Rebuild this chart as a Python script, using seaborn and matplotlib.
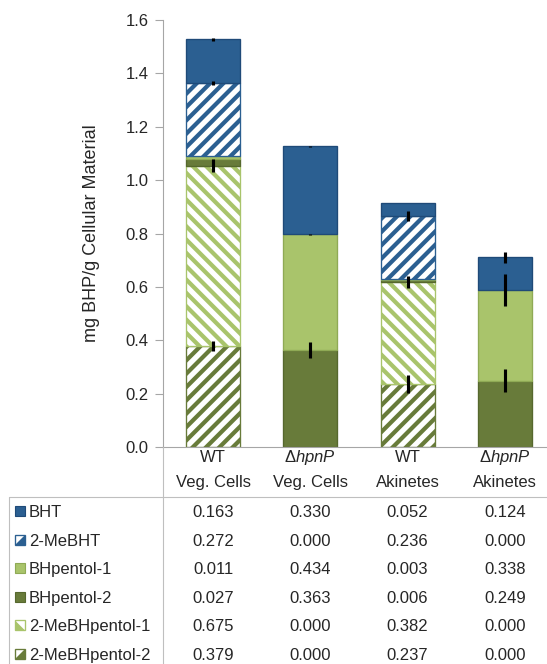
import numpy as np
import matplotlib
matplotlib.use("Agg")
import matplotlib.pyplot as plt
import seaborn as sns
from matplotlib.patches import Rectangle, Polygon
from matplotlib.lines import Line2D

# categories (one stacked bar each) and the table header text
categories = ["WT Veg. Cells", "dhpnP Veg. Cells", "WT Akinetes", "dhpnP Akinetes"]
header_top = ["WT", "Δ$\\mathit{hpnP}$", "WT", "Δ$\\mathit{hpnP}$"]
header_bottom = ["Veg. Cells", "Veg. Cells", "Akinetes", "Akinetes"]

# mg BHP / g cellular material (table values)
bht = [0.163, 0.330, 0.052, 0.124]
me_bht = [0.272, 0.000, 0.236, 0.000]
bhpentol_1 = [0.011, 0.434, 0.003, 0.338]
bhpentol_2 = [0.027, 0.363, 0.006, 0.249]
me_bhpentol_1 = [0.675, 0.000, 0.382, 0.000]
me_bhpentol_2 = [0.379, 0.000, 0.237, 0.000]

# error bars (drawn at the top of each segment)
err_bht = [0.004, 0.002, 0.0, 0.020]
err_me_bht = [0.008, 0.0, 0.019, 0.0]
err_bhpentol_1 = [0.0, 0.003, 0.0, 0.060]
err_bhpentol_2 = [0.0, 0.029, 0.0, 0.042]
err_me_bhpentol_1 = [0.025, 0.0, 0.022, 0.0]
err_me_bhpentol_2 = [0.020, 0.0, 0.034, 0.0]

BLUE = "#2B5F91"
LGREEN = "#A9C46B"
DGREEN = "#687B3A"

# name, values, errors, colour, hatch  (bottom of the stack first)
layers = [
    ("2-MeBHpentol-2", me_bhpentol_2, err_me_bhpentol_2, DGREEN, "//"),
    ("2-MeBHpentol-1", me_bhpentol_1, err_me_bhpentol_1, LGREEN, "\\\\"),
    ("BHpentol-2", bhpentol_2, err_bhpentol_2, DGREEN, ""),
    ("BHpentol-1", bhpentol_1, err_bhpentol_1, LGREEN, ""),
    ("2-MeBHT", me_bht, err_me_bht, BLUE, "//"),
    ("BHT", bht, err_bht, BLUE, ""),
]
edge_dark = {BLUE: "#1F4A78", LGREEN: "#8FAA55", DGREEN: "#56682E"}

sns.set_style("white")
plt.rcParams["font.family"] = ["Liberation Sans", "DejaVu Sans"]
plt.rcParams["mathtext.fontset"] = "custom"
plt.rcParams["mathtext.rm"] = "Liberation Sans"
plt.rcParams["mathtext.it"] = "Liberation Sans:italic"
plt.rcParams["hatch.linewidth"] = 3.8

W, H = 547, 664
DPI = 80
fig = plt.figure(figsize=(W / DPI, H / DPI), dpi=DPI)
ax = fig.add_axes([163 / W, 1 - 447 / H, (W - 163) / W, 427 / H])


def fx(px):
    return px / W


def fy(py):
    return 1 - py / H


bottom = np.zeros(len(categories))
x = np.arange(len(categories))
for name, vals, errs, col, hatch in layers:
    vals = np.array(vals)
    sns.barplot(x=categories, y=vals, order=categories, bottom=bottom.copy(),
                width=0.555, errorbar=None, color=col, ax=ax)
    for p, v in zip(ax.containers[-1], vals):
        if hatch:
            p.set_facecolor("white")
            p.set_edgecolor(col)
            p.set_hatch(hatch)
        else:
            p.set_facecolor(col)
            p.set_edgecolor(edge_dark[col])
        p.set_linewidth(1.2 if v > 0 else 0)
    bottom = bottom + vals
    errs = np.array(errs)
    m = errs > 0
    ax.errorbar(x[m], bottom[m], yerr=errs[m], fmt="none", ecolor="black",
                elinewidth=2.8, capsize=0, zorder=5)

ax.set_xlim(-0.514, 3.433)
ax.set_ylim(0, 1.6)
ax.set_yticks(np.arange(0, 1.61, 0.2))
ax.set_yticklabels([f"{t:.1f}" for t in np.arange(0, 1.61, 0.2)])
ax.tick_params(axis="y", direction="out", length=7, width=1, color="#A6A6A6",
               labelsize=15, pad=6, left=True)
ax.tick_params(axis="x", length=0, labelbottom=False)
ax.set_xlabel("")
ax.set_ylabel("")
for s in ["top", "right"]:
    ax.spines[s].set_visible(False)
for s in ["left", "bottom"]:
    ax.spines[s].set_color("#A6A6A6")
    ax.spines[s].set_linewidth(1)

fig.text(fx(92), fy(233), "mg BHP/g Cellular Material", rotation=90,
         ha="center", va="center", fontsize=16.2)

# data table under the chart
line_kw = dict(color="#BFBFBF", linewidth=1, transform=fig.transFigure)
fig.add_artist(Line2D([fx(9), fx(547)], [fy(497), fy(497)], **line_kw))
fig.add_artist(Line2D([fx(163), fx(163)], [fy(447), fy(664)], **line_kw))
fig.add_artist(Line2D([fx(9), fx(9)], [fy(497), fy(664)], **line_kw))

xt = ax.get_xaxis_transform()
for i in range(len(categories)):
    ax.text(i, (447 - 462) / 427, header_top[i], transform=xt, ha="center",
            va="baseline", fontsize=15, clip_on=False)
    ax.text(i, (447 - 487) / 427, header_bottom[i], transform=xt, ha="center",
            va="baseline", fontsize=15, clip_on=False)

table_rows = [layers[5], layers[4], layers[3], layers[2], layers[1], layers[0]]
for r, (name, vals, errs, col, hatch) in enumerate(table_rows):
    base = 517 + 28.6 * r
    cy = base - 6
    # key square
    if hatch:
        fig.add_artist(Rectangle((fx(15), fy(cy + 5)), 10 / W, 10 / H,
                                 facecolor="white", edgecolor=col, linewidth=1.2,
                                 transform=fig.transFigure))
        if hatch == "//":
            pts = [(fx(15), fy(cy + 5)), (fx(25), fy(cy + 5)), (fx(25), fy(cy - 5))]
        else:
            pts = [(fx(15), fy(cy + 5)), (fx(25), fy(cy + 5)), (fx(15), fy(cy - 5))]
        fig.add_artist(Polygon(pts, closed=True, facecolor=col, edgecolor="none",
                               transform=fig.transFigure))
    else:
        fig.add_artist(Rectangle((fx(15), fy(cy + 5)), 10 / W, 10 / H,
                                 facecolor=col, edgecolor=edge_dark[col], linewidth=1,
                                 transform=fig.transFigure))
    fig.text(fx(29), fy(base), name, ha="left", va="baseline", fontsize=15)
    for i, v in enumerate(vals):
        ax.text(i, (447 - base) / 427, f"{v:.3f}", transform=xt, ha="center",
                va="baseline", fontsize=15, clip_on=False)

fig.savefig("out.png", dpi=DPI)
